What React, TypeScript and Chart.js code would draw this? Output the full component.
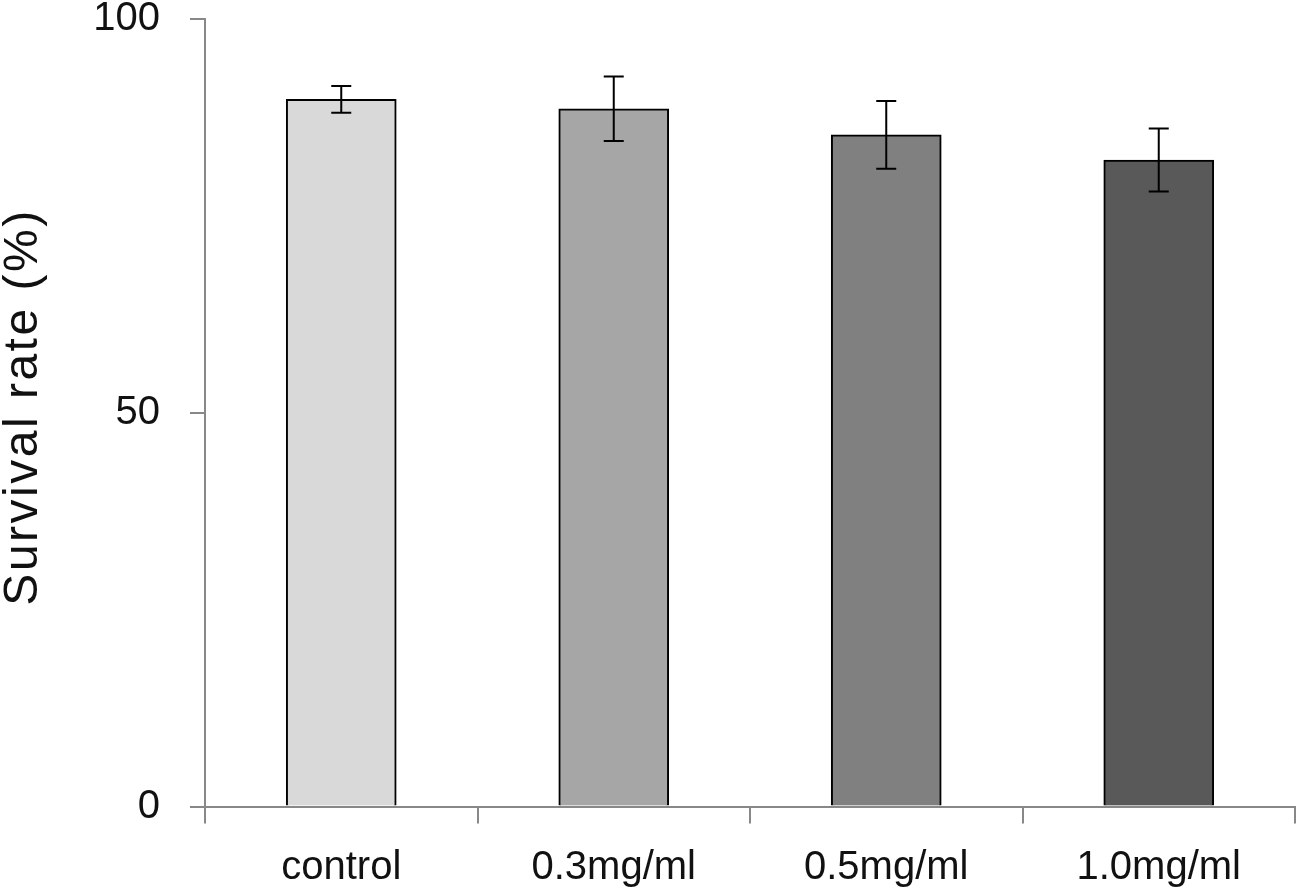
import React, { useEffect, useRef } from "react";
import { Chart, registerables } from "chart.js";

Chart.register(...registerables);

const categories = ["control", "0.3mg/ml", "0.5mg/ml", "1.0mg/ml"];
const survivalMeans = [89.8, 88.6, 85.3, 82.1];
const survivalErrors = [1.7, 4.1, 4.3, 4.0];
const barColors = ["#d9d9d9", "#a6a6a6", "#808080", "#595959"];
const yTicks = [0, 50, 100];
const yTitle = "Survival rate (%)";

const FONT = "'Liberation Sans', Arial, sans-serif";

const errorBarPlugin = {
  id: "errorBars",
  afterDatasetsDraw(chart: any) {
    const meta = chart.getDatasetMeta(0);
    const yScale = chart.scales.y;
    const ctx = chart.ctx;
    ctx.save();
    ctx.strokeStyle = "#000";
    ctx.lineWidth = 2;
    meta.data.forEach((bar: any, i: number) => {
      const x = bar.x;
      const top = yScale.getPixelForValue(survivalMeans[i] + survivalErrors[i]);
      const bot = yScale.getPixelForValue(survivalMeans[i] - survivalErrors[i]);
      const cap = 10;
      ctx.beginPath();
      ctx.moveTo(x, top);
      ctx.lineTo(x, bot);
      ctx.moveTo(x - cap, top);
      ctx.lineTo(x + cap, top);
      ctx.moveTo(x - cap, bot);
      ctx.lineTo(x + cap, bot);
      ctx.stroke();
    });
    ctx.restore();
  },
};

const titlePlugin = {
  id: "rotTitle",
  afterDraw(chart: any) {
    const ctx = chart.ctx;
    ctx.save();
    ctx.translate(24, 407);
    ctx.rotate(-Math.PI / 2);
    ctx.font = `48px ${FONT}`;
    (ctx as any).letterSpacing = "2.5px";
    ctx.fillStyle = "#111";
    ctx.textAlign = "center";
    ctx.textBaseline = "middle";
    ctx.fillText(yTitle, 0, 0);
    ctx.restore();
  },
};

export default function App() {
  const ref = useRef<HTMLCanvasElement>(null);
  useEffect(() => {
    document.body.style.margin = "0";
    const chart = new Chart(ref.current!, {
      type: "bar",
      data: {
        labels: categories,
        datasets: [
          {
            data: survivalMeans,
            backgroundColor: barColors,
            borderColor: "#000",
            borderWidth: 2,
            barThickness: 110,
          },
        ],
      },
      options: {
        animation: false,
        responsive: false,
        devicePixelRatio: 1,
        layout: { padding: { top: 19, right: 3, left: 0, bottom: 0 } },
        plugins: { legend: { display: false }, tooltip: { enabled: false }, title: { display: false } },
        scales: {
          x: {
            grid: {
              offset: true,
              drawOnChartArea: false,
              drawTicks: true,
              tickLength: 17,
              color: "#888",
              lineWidth: 2,
            },
            border: { color: "#888", width: 2 },
            ticks: {
              color: "#111",
              font: { family: FONT, size: 40 },
              padding: 20,
              maxRotation: 0,
            },
            afterFit(scale: any) {
              scale.height = 81.5;
              scale.paddingLeft = 0;
              scale.paddingRight = 0;
            },
          },
          y: {
            min: 0,
            max: 100,
            afterBuildTicks(scale: any) {
              scale.ticks = yTicks.map((v) => ({ value: v }));
            },
            grid: {
              drawOnChartArea: false,
              drawTicks: true,
              tickLength: 15,
              color: "#888",
              lineWidth: 2,
            },
            border: { color: "#888", width: 2 },
            ticks: {
              color: "#111",
              font: { family: FONT, size: 40 },
              padding: 30,
            },
            afterFit(scale: any) {
              scale.width = 205;
              scale.paddingTop = 0;
              scale.paddingBottom = 0;
            },
          },
        },
      },
      plugins: [errorBarPlugin, titlePlugin],
    });
    return () => chart.destroy();
  }, []);
  return (
    <div style={{ width: 1298, height: 888 }}>
      <canvas ref={ref} width={1298} height={888} style={{ display: "block" }} />
    </div>
  );
}
